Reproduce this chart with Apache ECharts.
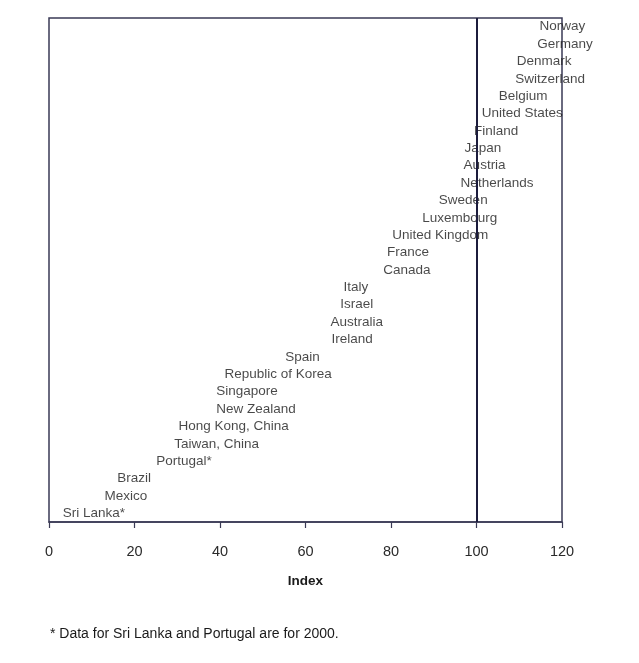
<!DOCTYPE html>
<html><head><meta charset="utf-8">
<script src="https://cdn.jsdelivr.net/npm/echarts@6/dist/echarts.min.js"></script>
<style>html,body{margin:0;padding:0;background:#fff}#c{width:639px;height:663px}</style>
</head><body><div id="c"></div>
<script>
// Countries from bottom (lowest) to top (highest)
const countries = ["Sri Lanka*","Mexico","Brazil","Portugal*","Taiwan, China","Hong Kong, China","New Zealand","Singapore","Republic of Korea","Spain","Ireland","Australia","Israel","Italy","Canada","France","United Kingdom","Luxembourg","Sweden","Netherlands","Austria","Japan","Finland","United States","Belgium","Switzerland","Denmark","Germany","Norway"];
const indexValues = [10.5,18.0,19.9,31.6,39.2,43.2,48.4,46.3,53.6,59.3,70.9,72.0,72.0,71.8,83.7,84.0,91.5,96.1,96.9,104.8,101.9,101.5,104.6,110.7,110.9,117.2,115.8,120.7,120.1];
const xTicks = [0,20,40,60,80,100,120];
const footnote = "* Data for Sri Lanka and Portugal are for 2000.";
const FONT = '"Liberation Sans", Arial, sans-serif';

const chart = echarts.init(document.getElementById('c'));
chart.setOption({
  animation:false,
  backgroundColor:'#fff',
  title:{text:footnote,left:45,top:622,textStyle:{fontFamily:FONT,fontSize:14,fontWeight:'normal',color:'#1a1a1a'}},
  grid:{left:49,right:77,top:18,bottom:141,show:true,borderColor:'#3a3a55',borderWidth:1.5},
  xAxis:{type:'value',min:0,max:120,interval:20,
    name:'Index',nameLocation:'middle',nameGap:52,
    nameTextStyle:{fontFamily:FONT,fontSize:13.5,fontWeight:'bold',color:'#1a1a1a'},
    axisLine:{show:true,lineStyle:{color:'#3a3a55',width:1.5}},
    axisTick:{show:true,inside:false,length:6,lineStyle:{color:'#3a3a55',width:1.2}},
    axisLabel:{margin:22,fontFamily:FONT,fontSize:14.5,color:'#2a2a2a',
      formatter:v=>xTicks.includes(v)?String(v):''},
    splitLine:{show:false}},
  yAxis:{type:'category',data:countries,boundaryGap:true,
    axisLine:{show:false},axisTick:{show:false},axisLabel:{show:false},splitLine:{show:false}},
  series:[{type:'scatter',symbolSize:0,clip:false,
    data:indexValues.map((v,i)=>[v,countries[i]]),
    label:{show:true,position:'inside',formatter:p=>p.data[1],
      fontFamily:FONT,fontSize:13.5,color:'#1a1a1a'},
    markLine:{silent:true,symbol:'none',label:{show:false},
      lineStyle:{color:'#1c1c3c',width:2,type:'solid'},
      data:[{xAxis:100}]},
    z:3}]
});
</script></body></html>
